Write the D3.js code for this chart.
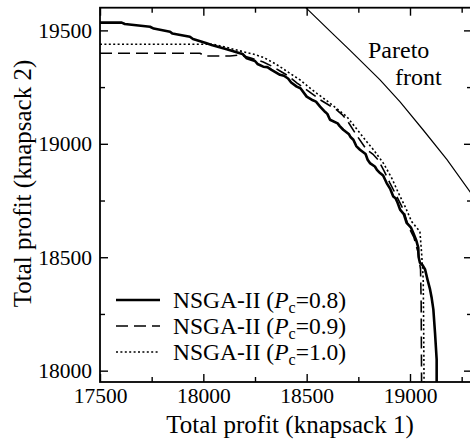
<!DOCTYPE html>
<html>
<head>
<meta charset="utf-8">
<script src="https://cdn.jsdelivr.net/npm/d3@7"></script>
<style>
  html, body { margin: 0; padding: 0; background: #fff; }
  svg { display: block; font-family: "Liberation Serif", "Times New Roman", serif; }
</style>
</head>
<body>
<svg id="chart" width="470" height="441"></svg>
<script>
// Non-dominated fronts found by NSGA-II for three crossover rates,
// given as [profit in knapsack 1, profit in knapsack 2].
const nsgaPc08 = [
  [17500, 19534], [17605, 19534], [17620, 19528], [17742, 19516], [17760, 19508],
  [17839, 19494], [17850, 19486], [17935, 19472], [17950, 19462], [18016, 19443],
  [18040, 19436], [18113, 19417], [18177, 19399], [18190, 19396], [18210, 19377],
  [18250, 19365], [18262, 19352], [18290, 19340], [18310, 19338], [18330, 19326],
  [18371, 19304], [18390, 19300], [18410, 19288], [18425, 19270], [18452, 19252],
  [18470, 19245], [18500, 19208], [18530, 19192], [18545, 19186], [18565, 19164],
  [18590, 19140], [18600, 19132], [18613, 19106], [18650, 19090], [18660, 19078],
  [18677, 19062], [18705, 19042], [18712, 19030], [18726, 19018], [18740, 18990],
  [18758, 18974], [18785, 18955], [18795, 18930], [18806, 18915], [18830, 18900],
  [18840, 18885], [18855, 18871], [18870, 18860], [18887, 18827], [18905, 18800],
  [18919, 18768], [18930, 18760], [18940, 18740], [18952, 18710], [18970, 18690],
  [18984, 18651], [19005, 18630], [19016, 18607], [19030, 18575], [19040, 18542],
  [19042, 18500], [19048, 18476], [19060, 18466], [19073, 18446], [19085, 18400],
  [19097, 18358], [19105, 18320], [19113, 18270], [19121, 18168], [19129, 18049],
  [19129, 17950]
];
const nsgaPc09 = [
  [17500, 19399], [17984, 19399], [18008, 19387], [18129, 19387], [18177, 19392],
  [18230, 19378], [18290, 19361], [18330, 19343], [18371, 19321], [18410, 19300],
  [18452, 19269], [18500, 19238], [18530, 19218], [18565, 19194], [18605, 19172],
  [18645, 19150], [18670, 19130], [18694, 19106], [18740, 19040], [18790, 18974],
  [18820, 18955], [18845, 18930], [18875, 18880], [18903, 18827], [18935, 18770],
  [18968, 18710], [18992, 18636], [19019, 18587], [19038, 18525], [19051, 18446],
  [19054, 18300], [19056, 17950]
];
const nsgaPc10 = [
  [17500, 19439], [18047, 19439], [18090, 19430], [18129, 19421], [18193, 19406],
  [18240, 19396], [18290, 19381], [18330, 19362], [18371, 19340], [18420, 19310],
  [18468, 19282], [18510, 19250], [18548, 19223], [18590, 19195], [18629, 19167],
  [18694, 19120], [18725, 19085], [18758, 19047], [18790, 19010], [18823, 18974],
  [18871, 18915], [18911, 18850], [18944, 18783], [18976, 18724], [19008, 18657],
  [19048, 18613], [19056, 18520], [19064, 18402], [19066, 18200], [19068, 17950]
];
// Reference Pareto-optimal front
const paretoFront = [
  [18480, 19615], [18497, 19599], [18613, 19497], [18710, 19412], [18855, 19282],
  [18952, 19185], [19063, 19062], [19179, 18930], [19290, 18789], [19350, 18710]
];

const xTicks = [17500, 18000, 18500, 19000];
const xMinorTicks = [17750, 18250, 18750, 19250];
const yTicks = [18000, 18500, 19000, 19500];
const yMinorTicks = [18250, 18750, 19250];

const legendLabels = ["0.8", "0.9", "1.0"];
const xTitle = "Total profit (knapsack 1)";
const yTitle = "Total profit (knapsack 2)";

const svg = d3.select("#chart");
const plotLeft = 100, plotRight = 472, plotTop = 7.7, plotBottom = 382;

const x = d3.scaleLinear().domain([17500, 19300]).range([plotLeft, plotRight]);
const y = d3.scaleLinear().domain([17950, 19600]).range([plotBottom, plotTop]);

svg.append("defs").append("clipPath").attr("id", "plotClip")
  .append("rect")
  .attr("x", plotLeft).attr("y", plotTop)
  .attr("width", plotRight - plotLeft).attr("height", plotBottom - plotTop);

const line = d3.line().x(d => x(d[0])).y(d => y(d[1]));
const plot = svg.append("g").attr("clip-path", "url(#plotClip)");

plot.append("path").datum(paretoFront)
  .attr("d", line).attr("fill", "none").attr("stroke", "#000").attr("stroke-width", 1.2);
plot.append("path").datum(nsgaPc10)
  .attr("d", line).attr("fill", "none").attr("stroke", "#000")
  .attr("stroke-width", 1.6).attr("stroke-dasharray", "2,2.4");
plot.append("path").datum(nsgaPc09)
  .attr("d", line).attr("fill", "none").attr("stroke", "#000")
  .attr("stroke-width", 1.6).attr("stroke-dasharray", "12,6");
plot.append("path").datum(nsgaPc08)
  .attr("d", line).attr("fill", "none").attr("stroke", "#000")
  .attr("stroke-width", 2.6).attr("stroke-linejoin", "round");

// Axes: inward ticks on all four sides, labels on bottom and left only
function styleAxis(g) {
  g.select(".domain").remove();
  g.selectAll(".tick line").attr("stroke", "#000").attr("stroke-width", 1.4);
  g.selectAll(".tick text").attr("fill", "#000")
    .style("font-family", "'Liberation Serif', 'Times New Roman', serif")
    .style("font-size", "21.5px");
}

svg.append("g").attr("transform", `translate(0,${plotBottom})`)
  .call(d3.axisBottom(x).tickValues(xTicks).tickFormat(d3.format("d")).tickSize(-8).tickPadding(6))
  .call(styleAxis);
svg.append("g").attr("transform", `translate(0,${plotBottom})`)
  .call(d3.axisBottom(x).tickValues(xMinorTicks).tickFormat("").tickSize(-5))
  .call(styleAxis);
svg.append("g").attr("transform", `translate(0,${plotTop})`)
  .call(d3.axisTop(x).tickValues(xTicks).tickFormat("").tickSize(-8))
  .call(styleAxis);
svg.append("g").attr("transform", `translate(0,${plotTop})`)
  .call(d3.axisTop(x).tickValues(xMinorTicks).tickFormat("").tickSize(-5))
  .call(styleAxis);

svg.append("g").attr("transform", `translate(${plotLeft},0)`)
  .call(d3.axisLeft(y).tickValues(yTicks).tickFormat(d3.format("d")).tickSize(-8).tickPadding(8))
  .call(styleAxis);
svg.append("g").attr("transform", `translate(${plotLeft},0)`)
  .call(d3.axisLeft(y).tickValues(yMinorTicks).tickFormat("").tickSize(-5))
  .call(styleAxis);
svg.append("g").attr("transform", `translate(${plotRight},0)`)
  .call(d3.axisRight(y).tickValues(yTicks).tickFormat("").tickSize(-8))
  .call(styleAxis);
svg.append("g").attr("transform", `translate(${plotRight},0)`)
  .call(d3.axisRight(y).tickValues(yMinorTicks).tickFormat("").tickSize(-5))
  .call(styleAxis);

// Plot frame
svg.append("rect")
  .attr("x", plotLeft).attr("y", plotTop)
  .attr("width", plotRight - plotLeft).attr("height", plotBottom - plotTop)
  .attr("fill", "none").attr("stroke", "#000").attr("stroke-width", 1.8);

// Axis titles
svg.append("text")
  .attr("x", 290).attr("y", 433)
  .attr("text-anchor", "middle")
  .style("font-size", "25px")
  .text(xTitle);
svg.append("text")
  .attr("transform", "translate(31,183.5) rotate(-90)")
  .attr("text-anchor", "middle")
  .style("font-size", "25px")
  .text(yTitle);

// Pareto front label
svg.append("text").attr("x", 368).attr("y", 58).style("font-size", "24px").text("Pareto");
svg.append("text").attr("x", 395).attr("y", 85).style("font-size", "24px").text("front");

// Legend
const legendStyles = [
  { width: 2.6, dash: null },
  { width: 1.6, dash: "12,6" },
  { width: 1.6, dash: "2,2.4" }
];
const legend = svg.append("g");
legendLabels.forEach((lab, i) => {
  const cy = 300 + i * 26;
  legend.append("line")
    .attr("x1", 116).attr("x2", 160).attr("y1", cy).attr("y2", cy)
    .attr("stroke", "#000").attr("stroke-width", legendStyles[i].width)
    .attr("stroke-dasharray", legendStyles[i].dash);
  const t = legend.append("text")
    .attr("x", 173).attr("y", cy + 8)
    .style("font-size", "23.5px");
  t.append("tspan").text("NSGA-II (");
  t.append("tspan").style("font-style", "italic").text("P");
  t.append("tspan").attr("dy", 5).style("font-size", "16px").text("c");
  t.append("tspan").attr("dy", -5).text("=" + lab + ")");
});
</script>
</body>
</html>
